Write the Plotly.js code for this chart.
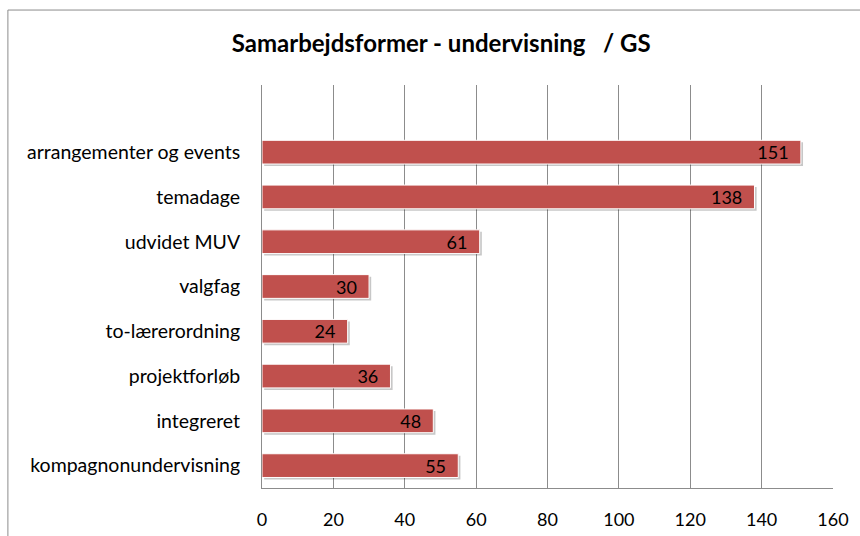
<!DOCTYPE html>
<html>
<head>
<meta charset="utf-8">
<script src="https://cdn.plot.ly/plotly-3.0.1.min.js"></script>
<style>
  body { margin: 0; background: #ffffff; }
  #chart { width: 860px; height: 536px; }
</style>
</head>
<body>
<div id="chart"></div>
<script>
// categories, bottom to top (Plotly draws first category at the bottom)
const categories = [
    'kompagnonundervisning',
    'integreret',
    'projektforløb',
    'to-lærerordning',
    'valgfag',
    'udvidet MUV',
    'temadage',
    'arrangementer og events'
];
const counts = [55, 48, 36, 24, 30, 61, 138, 151];
const xTicks = [0, 20, 40, 60, 80, 100, 120, 140, 160];

const font = 'Lato, "Open Sans", sans-serif';

// soft drop shadow under each bar
const shadow = {
    type: 'bar',
    orientation: 'h',
    y: categories,
    x: counts,
    base: 0.6,
    width: 0.53,
    offset: -0.31,
    marker: { color: 'rgba(0,0,0,0.22)' },
    hoverinfo: 'skip'
};

const bars = {
    type: 'bar',
    orientation: 'h',
    y: categories,
    x: counts,
    width: 0.53,
    marker: { color: '#C0504D', line: { color: '#ffffff', width: 1 } },
    // non-breaking spaces keep the label off the bar end, like Excel
    text: counts.map(v => v + '\u00a0\u00a0'),
    textposition: 'inside',
    insidetextanchor: 'end',
    textangle: 0,
    constraintext: 'none',
    textfont: { family: font, size: 18, color: '#000000' },
    hoverinfo: 'x+y'
};

const layout = {
    width: 860,
    height: 536,
    paper_bgcolor: '#ffffff',
    plot_bgcolor: '#ffffff',
    showlegend: false,
    barmode: 'overlay',
    margin: { l: 262, r: 27, t: 85, b: 48 },
    title: {
        text: '<b>Samarbejdsformer - undervisning   / GS</b>',
        font: { family: font, size: 24, color: '#000000' },
        x: 0.513,
        xref: 'container',
        xanchor: 'center',
        y: 0.918,
        yref: 'container',
        yanchor: 'middle'
    },
    xaxis: {
        range: [0, 160],
        tickvals: xTicks,
        ticktext: xTicks.map(String),
        showgrid: true,
        gridcolor: '#8c8c8c',
        gridwidth: 1,
        zeroline: false,
        showline: true,
        linecolor: '#8c8c8c',
        ticks: '',
        ticklabelstandoff: 15,
        tickfont: { family: font, size: 18, color: '#000000' },
        fixedrange: true
    },
    yaxis: {
        type: 'category',
        range: [-0.5, 8.5],
        showgrid: false,
        zeroline: false,
        showline: true,
        linecolor: '#8c8c8c',
        ticks: '',
        ticklabelstandoff: 17,
        tickfont: { family: font, size: 19.5, color: '#000000' },
        fixedrange: true
    },
    shapes: [{
        type: 'rect',
        xref: 'paper', yref: 'paper',
        x0: -0.445, x1: 1.1, y0: -0.2, y1: 1.186,
        line: { color: '#8c8c8c', width: 1 },
        layer: 'below'
    }]
};

Plotly.newPlot('chart', [shadow, bars], layout, { displayModeBar: false, staticPlot: true });
</script>
</body>
</html>
